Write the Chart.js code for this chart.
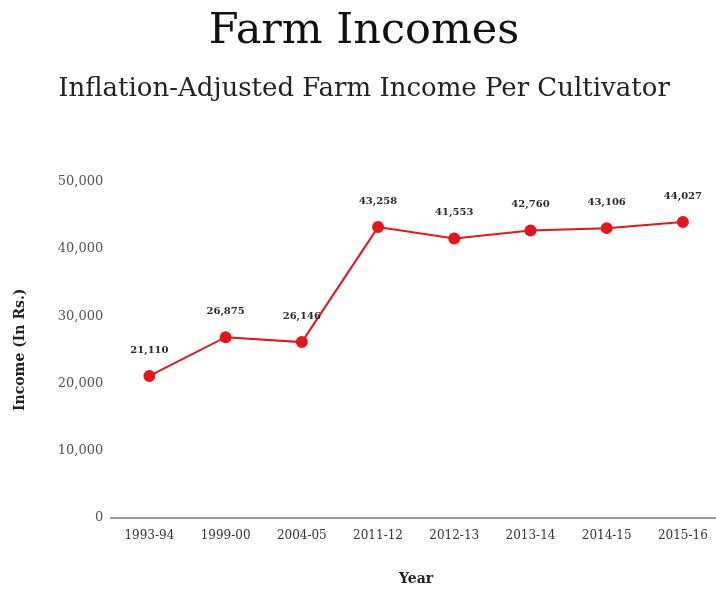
<!DOCTYPE html>
<html>
<head>
<meta charset="utf-8">
<script src="https://cdn.jsdelivr.net/npm/chart.js@4/dist/chart.umd.min.js"></script>
<style>
  html, body { margin: 0; padding: 0; background: #fff; overflow: hidden; }
</style>
</head>
<body>
<canvas id="farm-chart" width="728" height="591"></canvas>
<script>
// 数据
const years = ['1993-94', '1999-00', '2004-05', '2011-12', '2012-13', '2013-14', '2014-15', '2015-16'];
const incomes = [21110, 26875, 26146, 43258, 41553, 42760, 43106, 44027];
const yTicks = [0, 10000, 20000, 30000, 40000, 50000];

// 点上方的数值标签
const valueLabels = {
  id: 'valueLabels',
  afterDatasetsDraw(chart) {
    const ctx = chart.ctx;
    const meta = chart.getDatasetMeta(0);
    ctx.save();
    ctx.font = 'bold 10px "DejaVu Serif"';
    ctx.fillStyle = '#2a2a2a';
    ctx.textAlign = 'center';
    ctx.textBaseline = 'middle';
    meta.data.forEach((pt, i) => {
      ctx.fillText(incomes[i].toLocaleString('en-US'), pt.x, pt.y - 26);
    });
    ctx.restore();
  }
};

const ctx = document.getElementById('farm-chart').getContext('2d');
new Chart(ctx, {
  type: 'line',
  data: {
    labels: years,
    datasets: [{
      data: incomes,
      borderColor: '#e5161b',
      backgroundColor: '#e5161b',
      borderWidth: 2,
      pointRadius: 5,
      pointHoverRadius: 5,
      tension: 0
    }]
  },
  options: {
    responsive: false,
    animation: false,
    layout: { padding: { left: 0, right: 0, top: 0, bottom: 0 } },
    plugins: {
      legend: { display: false },
      tooltip: { enabled: false },
      title: {
        display: true,
        text: 'Farm Incomes',
        color: '#111',
        font: { family: '"DejaVu Serif"', size: 43, weight: 'normal' },
        padding: { top: 6, bottom: 16 }
      },
      subtitle: {
        display: true,
        text: 'Inflation-Adjusted Farm Income Per Cultivator',
        color: '#222',
        font: { family: '"DejaVu Serif"', size: 26, weight: 'normal' },
        padding: { top: 0, bottom: 77 }
      }
    },
    scales: {
      x: {
        offset: true,
        grid: { display: false, drawTicks: false },
        border: { display: true, color: '#999', width: 2 },
        ticks: {
          color: '#333',
          padding: 11,
          maxRotation: 0,
          font: { family: '"DejaVu Serif"', size: 12 }
        },
        title: {
          display: true,
          text: 'Year',
          color: '#222',
          font: { family: '"DejaVu Serif"', size: 14, weight: 'bold' },
          padding: { top: 17, bottom: 3 }
        }
      },
      y: {
        min: 0,
        max: 50000,
        afterBuildTicks(scale) {
          scale.ticks = yTicks.map(v => ({ value: v }));
        },
        grid: { display: false, drawTicks: false },
        border: { display: false },
        ticks: {
          color: '#555',
          padding: 8,
          font: { family: '"DejaVu Serif"', size: 13 },
          callback: v => v.toLocaleString('en-US')
        },
        title: {
          display: true,
          text: 'Income (In Rs.)',
          color: '#222',
          font: { family: '"DejaVu Serif"', size: 14, weight: 'bold' },
          padding: { top: 12, bottom: 21 }
        }
      }
    }
  },
  plugins: [valueLabels]
});
</script>
</body>
</html>
